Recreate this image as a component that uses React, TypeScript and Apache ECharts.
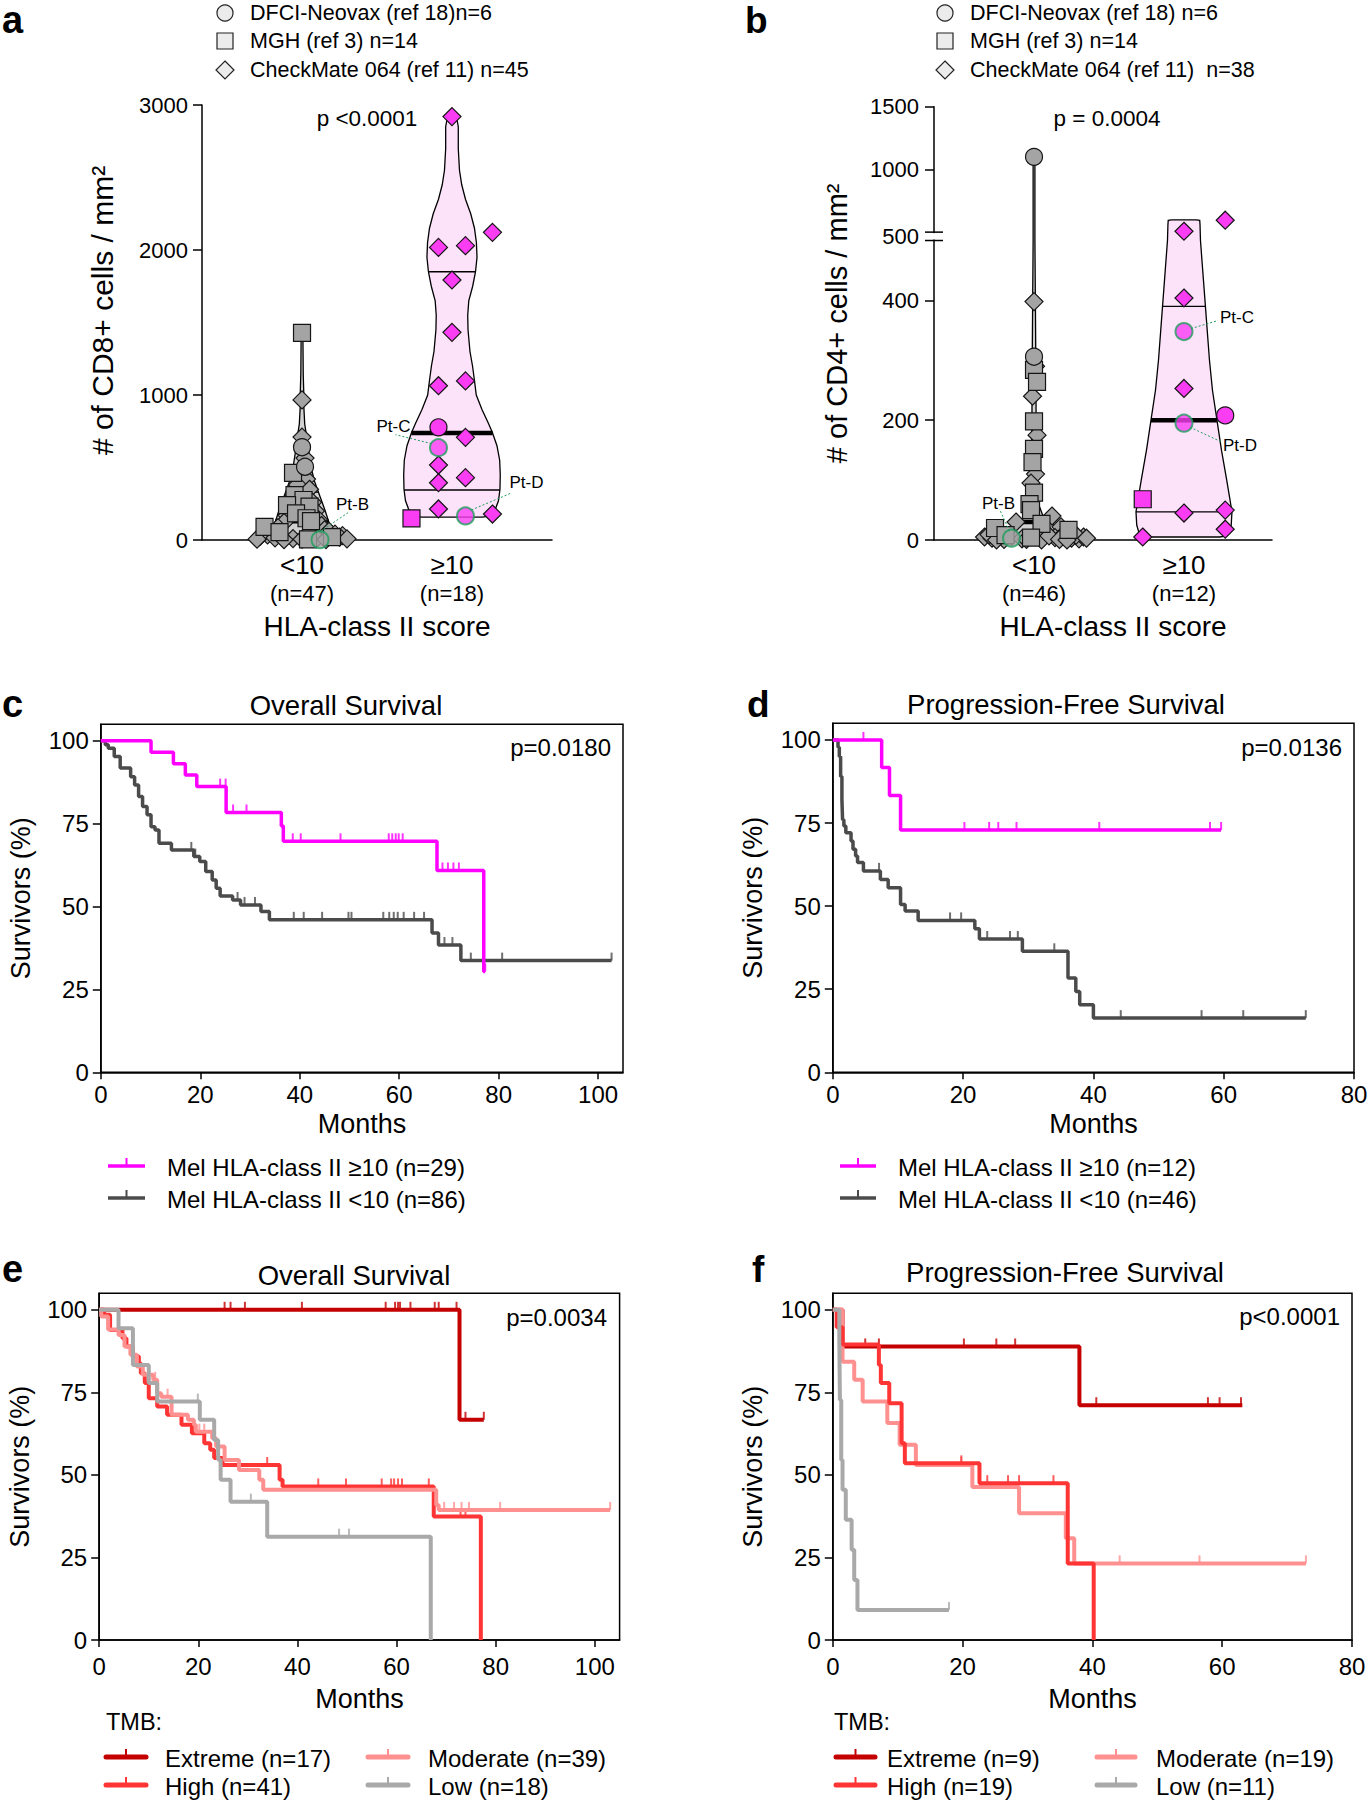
import React, { useEffect, useRef } from "react";
import * as echarts from "echarts";

const FONT = "'Liberation Sans', Arial, Helvetica, sans-serif";
const PT_GREY = "#a4a4a4";
const PT_MAGENTA = "#fa3cf2";
const PT_GREEN = "#1e9d5c";
const VIOLIN_PINK = "#fde3fa";
const VIOLIN_GREY = "#d2d2d2";
const KM_MAGENTA = "#ff00ff";
const KM_GREY = "#4b4b4b";
const TMB_EXTREME = "#c40000";
const TMB_HIGH = "#ff3434";
const TMB_MODERATE = "#ff9090";
const TMB_LOW = "#a9a9a9";

// ---------------- Panel a : CD8+ density ----------------
const aCategories = ["<10", "≥10"];
const aCounts = ["(n=47)", "(n=18)"];
const aLegend = ["DFCI-Neovax (ref 18)n=6", "MGH (ref 3) n=14", "CheckMate 064 (ref 11) n=45"];
// [group position + jitter, cells/mm2]
const aCirclesLow = [[0.0, 640], [0.02, 505]];
const aCirclesHigh = [[0.91, 777]];
const aSquaresLow = [[0.0, 1428], [-0.06, 463], [-0.05, 310], [0.01, 276], [-0.1, 241], [0.05, 230], [-0.04, 184], [0.03, 150], [0.06, 130], [-0.25, 90], [-0.15, 55], [0.2, 20], [0.04, 5]];
const aSquaresHigh = [[0.73, 149]];
const aDiamondsLow = [[0, 966], [0, 710], [0.02, 565], [0.03, 420], [-0.03, 380], [0.05, 350], [-0.06, 300], [0.07, 260], [-0.08, 220], [0.09, 200], [-0.1, 170], [0.11, 140], [-0.12, 120], [0.13, 100], [-0.16, 85], [0.15, 70], [0.18, 60], [-0.2, 50], [0.22, 40], [-0.23, 35], [0.27, 30], [-0.28, 25], [0.25, 20], [-0.18, 15], [0.1, 12], [-0.06, 10], [0.3, 8], [-0.3, 6], [0, 5], [0.16, 3], [-0.12, 2]];
const aDiamondsHigh = [[1, 2920], [0.91, 2018], [1.09, 2030], [1.27, 2122], [1, 1793], [1, 1432], [0.91, 1064], [1.09, 1097], [1.09, 708], [0.91, 517], [0.91, 395], [1.09, 430], [0.91, 214], [1.27, 179]];
const aPatientNames = ["Pt-B", "Pt-C", "Pt-D"];
const aPatientPoints = [[0.12, 2], [0.91, 637], [1.09, 166]];
const aPatientGroup = [0, 1, 1];
// violin outlines: [value, half width in group units]
const aViolinLow = [[1430, 0], [1400, 0.006], [1150, 0.008], [1000, 0.012], [960, 0.022], [920, 0.012], [800, 0.018], [720, 0.03], [600, 0.045], [500, 0.06], [400, 0.085], [300, 0.12], [200, 0.155], [120, 0.18], [60, 0.19], [25, 0.18], [5, 0.15], [1, 0.1]];
const aViolinLowLines = [[330, false], [130, true], [40, false]];
const aViolinHigh = [[2935, 0], [2920, 0.03], [2850, 0.042], [2700, 0.042], [2550, 0.05], [2450, 0.065], [2350, 0.09], [2250, 0.125], [2150, 0.15], [2050, 0.163], [1950, 0.167], [1850, 0.157], [1750, 0.138], [1650, 0.112], [1550, 0.105], [1450, 0.107], [1300, 0.12], [1200, 0.137], [1100, 0.15], [1000, 0.162], [900, 0.2], [800, 0.245], [740, 0.27], [650, 0.3], [550, 0.318], [450, 0.322], [350, 0.32], [270, 0.31], [215, 0.29], [180, 0.265], [163, 0.24], [158, 0.2]];
const aViolinHighLines = [[1850, false], [738, true], [345, false]];

// ---------------- Panel b : CD4+ density ----------------
const bCategories = ["<10", "≥10"];
const bCounts = ["(n=46)", "(n=12)"];
const bLegend = ["DFCI-Neovax (ref 18) n=6", "MGH (ref 3) n=14", "CheckMate 064 (ref 11)  n=38"];
const bYTickValues = [0, 200, 400, 500, 1000, 1500];
const bCirclesLow = [[0, 1100], [0, 306]];
const bCirclesHigh = [[1.275, 208]];
const bSquaresLow = [[0, 284], [0.02, 264], [0, 198], [0, 152], [-0.01, 130], [0, 79], [-0.03, 60], [-0.02, 50], [-0.26, 20], [-0.19, 8], [0.05, 27], [0.23, 17], [-0.02, 4]];
const bSquaresHigh = [[0.725, 68]];
const bDiamondsLow = [[0, 398], [0.01, 290], [-0.01, 240], [0.02, 175], [0.01, 110], [-0.02, 95], [0.12, 40], [-0.12, 30], [0.18, 22], [-0.33, 5], [-0.28, 3], [-0.22, 8], [-0.15, 6], [-0.08, 2], [0.08, 12], [0.14, 4], [0.2, 10], [0.25, 3], [0.3, 2], [0.33, 5], [-0.05, 1], [0.05, 0], [0.1, 7], [-0.2, 1], [0.17, 1], [-0.3, 9], [0.28, 8], [-0.25, 0], [0.22, 0], [0.35, 3]];
const bDiamondsHigh = [[1, 507], [1.275, 595], [1, 404], [1, 253], [1, 45], [1.275, 50], [1.275, 18], [0.725, 5]];
const bPatientNames = ["Pt-B", "Pt-C", "Pt-D"];
const bPatientPoints = [[-0.15, 3], [1, 348], [1, 195]];
const bPatientGroup = [0, 1, 1];
const bViolinLow = [[1100, 0], [1090, 0.006], [500, 0.006], [400, 0.009], [300, 0.012], [200, 0.014], [100, 0.02], [60, 0.03], [40, 0.06], [25, 0.13], [15, 0.2], [8, 0.27], [4, 0.31], [1, 0.3], [0, 0.25]];
const bViolinLowLines = [[160, false], [30, true], [6, false]];
const bViolinHigh = [[598, 0.08], [594, 0.105], [560, 0.107], [500, 0.11], [450, 0.125], [400, 0.14], [300, 0.17], [250, 0.19], [200, 0.22], [150, 0.25], [100, 0.285], [70, 0.305], [47, 0.32], [25, 0.315], [12, 0.3], [7, 0.28], [5, 0.24]];
const bViolinHighLines = [[390, false], [200, true], [47, false]];

// ---------------- Panels c-f : Kaplan-Meier curves [months, % surviving] ----------------
const kmYTicks = [0, 25, 50, 75, 100];
const osXTicks = [0, 20, 40, 60, 80, 100];
const pfsXTicks = [0, 20, 40, 60, 80];

const osHlaHigh = [[0, 100], [10.1, 96.6], [14.6, 93.1], [17.0, 89.7], [19.3, 86.2], [25.2, 78.4], [36.3, 74.3], [36.7, 69.7], [67.6, 60.9], [77.0, 30.4], [77.3, 30.4]];
const osHlaHighCensor = [24.0, 25.1, 26.6, 29.3, 38.6, 40.2, 48.2, 57.9, 58.6, 59.3, 59.9, 60.7, 68.7, 69.8, 70.9, 72.0, 77.3];
const osHlaLow = [[0, 100], [0.9, 98.8], [1.5, 97.8], [2.7, 95.3], [3.9, 91.8], [6.0, 89.2], [6.8, 86.7], [7.6, 83.2], [8.4, 80.2], [9.3, 77.7], [10.1, 74.1], [10.9, 73.1], [11.7, 69.1], [14.2, 67.1], [18.7, 65.1], [19.9, 63.6], [21.1, 60.6], [22.4, 58.0], [23.2, 55.5], [24.0, 53.2], [26.5, 52.0], [28.1, 50.5], [32.2, 48.5], [33.9, 46.0], [66.6, 42.0], [67.9, 38.4], [72.4, 33.7], [102.7, 33.7]];
const osHlaLowCensor = [18.2, 19.0, 27.5, 28.9, 31.0, 38.8, 40.8, 44.5, 49.8, 50.4, 56.8, 58.0, 58.9, 59.7, 60.9, 63.0, 65.0, 69.1, 70.7, 74.4, 80.7, 102.7];
const osHlaLegend = ["Mel HLA-class II ≥10 (n=29)", "Mel HLA-class II <10 (n=86)"];

const pfsHlaHigh = [[0, 100], [7.5, 91.7], [8.7, 83.3], [10.4, 72.9], [59.6, 72.9]];
const pfsHlaHighCensor = [4.7, 20.2, 24.0, 25.4, 28.2, 40.9, 57.9, 59.6];
const pfsHlaLow = [[0, 100], [0.8, 97.8], [1.0, 95.0], [1.2, 89.0], [1.4, 82.0], [1.5, 76.0], [1.7, 74.1], [2.0, 72.1], [2.8, 69.6], [3.1, 67.1], [3.5, 65.1], [3.8, 63.1], [4.7, 60.6], [7.3, 58.0], [8.5, 55.5], [10.4, 50.5], [11.1, 48.5], [13.1, 45.7], [21.8, 43.2], [22.5, 40.1], [29.1, 36.4], [36.1, 28.4], [37.3, 24.3], [37.9, 20.3], [40.0, 16.3], [72.6, 16.3]];
const pfsHlaLowCensor = [7.1, 18.0, 19.7, 23.7, 27.2, 28.4, 34.0, 44.2, 56.6, 63.0, 72.6];
const pfsHlaLegend = ["Mel HLA-class II ≥10 (n=12)", "Mel HLA-class II <10 (n=46)"];

const osTmbExtreme = [[0, 100], [72.7, 66.7], [77.6, 66.7]];
const osTmbExtremeCensor = [25.3, 26.5, 29.4, 40.9, 57.8, 59.7, 60.3, 60.7, 62.8, 67.7, 68.5, 72.1, 73.9, 77.6];
const osTmbHigh = [[0, 100], [1.0, 98.5], [2.2, 93.9], [4.7, 91.4], [5.5, 88.9], [6.8, 85.9], [8.0, 83.8], [8.4, 80.8], [9.2, 77.8], [10.0, 73.2], [11.7, 70.7], [13.7, 68.2], [16.6, 65.2], [18.7, 62.6], [21.2, 59.6], [22.4, 57.6], [23.2, 55.1], [24.9, 53.0], [36.4, 48.5], [37.0, 46.5], [67.5, 37.4], [77.0, 0]];
const osTmbHighCensor = [33.9, 44.2, 49.8, 57.0, 58.9, 59.5, 60.3, 61.1, 66.5, 72.9, 73.9];
const osTmbModerate = [[0, 100], [0.4, 98], [1.8, 94], [3.9, 92.4], [5.1, 88.9], [6.3, 86.4], [7.6, 82.8], [8.8, 80.3], [10.9, 78.8], [11.7, 74.7], [12.5, 73.7], [14.6, 68.2], [17.9, 66.7], [19.1, 65.2], [19.5, 63.1], [22.8, 61.1], [23.6, 58.6], [25.3, 54.5], [28.2, 51.5], [32.3, 48.5], [33.1, 45.5], [68.0, 40.9], [68.5, 39.4], [103.1, 39.4]];
const osTmbModerateCensor = [11.3, 13.8, 20.2, 21.2, 69.6, 71.6, 73.1, 74.6, 80.9, 103.1];
const osTmbLow = [[0, 100], [3.9, 94.4], [6.8, 83.3], [10.0, 77.8], [11.7, 72.2], [20.3, 66.7], [23.2, 60.6], [24.0, 54.6], [24.5, 48.5], [26.5, 41.9], [33.9, 31.3], [66.9, 0]];
const osTmbLowCensor = [19.9, 30.6, 48.4, 50.4];
const osTmbLegend = ["Extreme (n=17)", "High (n=41)", "Moderate (n=39)", "Low (n=18)"];

const pfsTmbExtreme = [[0, 100], [1.5, 88.9], [38.0, 71.1], [63.1, 71.1]];
const pfsTmbExtremeCensor = [5.0, 7.1, 20.2, 25.2, 28.1, 40.6, 57.8, 59.6, 62.9];
const pfsTmbHigh = [[0, 100], [0.6, 94.7], [1.5, 89.5], [7.1, 83.3], [7.4, 77.8], [8.7, 71.7], [10.6, 59.6], [11.1, 53.5], [22.6, 47.5], [36.2, 23.2], [40.2, 0]];
const pfsTmbHighCensor = [19.8, 23.8, 27.0, 28.7, 34.0];
const pfsTmbModerate = [[0, 100], [1.5, 84.3], [3.3, 78.8], [4.6, 72.2], [8.4, 65.7], [10.3, 59.1], [12.8, 53.0], [21.5, 46.3], [28.7, 38.4], [35.9, 30.8], [37.2, 23.2], [72.9, 23.2]];
const pfsTmbModerateCensor = [4.6, 19.8, 44.2, 56.5, 72.9];
const pfsTmbLow = [[0, 100], [1.0, 90.9], [1.1, 72.7], [1.3, 54.5], [1.5, 45.5], [2.0, 36.4], [2.9, 27.3], [3.3, 18.2], [3.8, 9.1], [17.9, 9.1]];
const pfsTmbLowCensor = [17.9];
const pfsTmbLegend = ["Extreme (n=9)", "High (n=19)", "Moderate (n=19)", "Low (n=11)"];

// ---------------- helpers ----------------
// broken axis of panel b: 0-500 linear, 500-1500 compressed
const B_BREAK = 500;
const B_GAP = 14;
const B_RATIO = 0.2094;
function bT(v: number) {
  return v <= B_BREAK ? v : B_BREAK + B_GAP + (v - B_BREAK) * B_RATIO;
}
const bLabelPos = bYTickValues.map((v) => (v === B_BREAK ? B_BREAK + B_GAP / 2 : bT(v)));
const ident = (v: number) => v;

function survAt(curve: number[][], t: number) {
  let s = curve[0][1];
  for (const [ti, si] of curve) {
    if (ti <= t + 1e-9) s = si;
    else break;
  }
  return s;
}

function widthAt(profile: any[], v: number) {
  for (let i = 0; i < profile.length - 1; i++) {
    const [v1, w1] = profile[i];
    const [v2, w2] = profile[i + 1];
    if (v <= v1 && v >= v2) {
      const f = v1 === v2 ? 0 : (v1 - v) / (v1 - v2);
      return w1 + (w2 - w1) * f;
    }
  }
  return 0;
}

function violin(ax: number, center: number, profile: any[], lines: any[], fill: string, tf: (v: number) => number) {
  return {
    type: "custom",
    xAxisIndex: ax,
    yAxisIndex: ax,
    clip: false,
    silent: true,
    z: 1,
    data: [[center, tf(profile[0][0])]],
    renderItem: (params: any, api: any) => {
      const right = profile.map(([v, w]: any) => api.coord([center + w, tf(v)]));
      const left = profile.slice().reverse().map(([v, w]: any) => api.coord([center - w, tf(v)]));
      const children: any[] = [
        { type: "polygon", shape: { points: right.concat(left) }, style: { fill, stroke: "#000", lineWidth: 1.3 } },
      ];
      lines.forEach(([v, bold]: any) => {
        const w = widthAt(profile, v);
        const p1 = api.coord([center - w, tf(v)]);
        const p2 = api.coord([center + w, tf(v)]);
        children.push({
          type: "line",
          shape: { x1: p1[0], y1: p1[1], x2: p2[0], y2: p2[1] },
          style: { stroke: "#000", lineWidth: bold ? 4.5 : 1.3 },
        });
      });
      return { type: "group", children };
    },
  };
}

function points(ax: number, data: any[], symbol: string, color: string, tf: (v: number) => number, size = 17) {
  return {
    type: "scatter",
    xAxisIndex: ax,
    yAxisIndex: ax,
    symbol,
    symbolSize: size,
    clip: false,
    silent: true,
    z: 2,
    data: data.map(([x, v]: any) => [x, tf(v)]),
    itemStyle: { color, borderColor: "#151515", borderWidth: 1.2, opacity: 1 },
  };
}

function patients(ax: number, pts: any[], groups: number[], names: string[], offsets: any[], tf: (v: number) => number) {
  return [
    {
      type: "scatter",
      xAxisIndex: ax,
      yAxisIndex: ax,
      symbol: "circle",
      symbolSize: 17,
      clip: false,
      silent: true,
      z: 3,
      data: pts.map(([x, v]: any, i: number) => ({
        value: [x, tf(v)],
        itemStyle: { color: groups[i] === 0 ? PT_GREY : PT_MAGENTA, borderColor: PT_GREEN, borderWidth: 2 },
      })),
    },
    {
      type: "custom",
      xAxisIndex: ax,
      yAxisIndex: ax,
      clip: false,
      silent: true,
      z: 4,
      data: pts.map(([x, v]: any) => [x, tf(v)]),
      renderItem: (params: any, api: any) => {
        const i = params.dataIndex;
        const p = api.coord([api.value(0), api.value(1)]);
        const o = offsets[i];
        return {
          type: "group",
          children: [
            {
              type: "line",
              shape: { x1: p[0] + o[3], y1: p[1] + o[4], x2: p[0] + o[5], y2: p[1] + o[6] },
              style: { stroke: PT_GREEN, lineWidth: 1, lineDash: [2, 2] },
            },
            {
              type: "text",
              x: p[0] + o[0],
              y: p[1] + o[1],
              style: {
                text: names[i],
                fontSize: 17,
                fontFamily: FONT,
                fill: "#000",
                align: o[2],
                textAlign: o[2],
                verticalAlign: "middle",
                textVerticalAlign: "middle",
              },
            },
          ],
        };
      },
    },
  ];
}

function kmCurve(ax: number, curve: number[][], censor: number[], color: string, width: number, z: number) {
  return [
    {
      type: "line",
      xAxisIndex: ax,
      yAxisIndex: ax,
      step: "end",
      data: curve,
      symbol: "none",
      showSymbol: false,
      silent: true,
      z,
      lineStyle: { color, width },
      itemStyle: { color },
    },
    {
      type: "scatter",
      xAxisIndex: ax,
      yAxisIndex: ax,
      symbol: "rect",
      symbolSize: [2, 8],
      symbolOffset: [0, -4],
      silent: true,
      clip: false,
      z,
      data: censor.map((t) => [t, survAt(curve, t)]),
      itemStyle: { color },
    },
  ];
}

function txt(text: string, x: number, y: number, size: number, align = "left", weight = "normal", rotation = 0) {
  return {
    type: "text",
    x,
    y,
    rotation,
    silent: true,
    style: {
      text,
      fontSize: size,
      fontFamily: FONT,
      fontWeight: weight,
      fill: "#000",
      align,
      textAlign: align,
      verticalAlign: "middle",
      textVerticalAlign: "middle",
    },
  };
}

function legendLine(x1: number, x2: number, y: number, color: string, width: number, round: boolean) {
  const cx = (x1 + x2) / 2;
  return [
    { type: "line", silent: true, shape: { x1, y1: y, x2, y2: y }, style: { stroke: color, lineWidth: width, lineCap: round ? "round" : "butt" } },
    { type: "line", silent: true, shape: { x1: cx, y1: y, x2: cx, y2: y - 8 }, style: { stroke: color, lineWidth: 2 } },
  ];
}

function scatterX(grid: number, xmin: number, xmax: number, cats: string[], counts: string[], namePad: number) {
  return {
    type: "value",
    gridIndex: grid,
    min: xmin,
    max: xmax,
    axisLine: { show: true, onZero: false, lineStyle: { color: "#000", width: 1.5 } },
    axisTick: { show: false },
    splitLine: { show: false },
    axisLabel: {
      customValues: [0, 1],
      margin: 11,
      formatter: (val: number) => {
        const i = Math.round(val);
        return `{g|${cats[i]}}\n{n|${counts[i]}}`;
      },
      rich: {
        g: { fontSize: 26, lineHeight: 28, fontFamily: FONT, color: "#000" },
        n: { fontSize: 22, lineHeight: 28, fontFamily: FONT, color: "#000" },
      },
    },
    name: "HLA-class II score",
    nameLocation: "middle",
    nameGap: 72,
    nameTextStyle: { fontSize: 28, fontFamily: FONT, color: "#000", padding: [0, 0, 0, namePad] },
  };
}

function kmX(grid: number, max: number, ticks: number[], margin: number, nameGap: number) {
  return {
    type: "value",
    gridIndex: grid,
    min: 0,
    max,
    axisLine: { show: true, onZero: false, lineStyle: { color: "#000", width: 1.5 } },
    axisTick: { show: true, inside: false, length: 7, customValues: ticks, lineStyle: { color: "#000", width: 1.5 } },
    axisLabel: { customValues: ticks, fontSize: 24, fontFamily: FONT, color: "#000", margin },
    splitLine: { show: false },
    name: "Months",
    nameLocation: "middle",
    nameGap,
    nameTextStyle: { fontSize: 27, fontFamily: FONT, color: "#000" },
  };
}

function kmY(grid: number) {
  return {
    type: "value",
    gridIndex: grid,
    min: 0,
    max: 105,
    axisLine: { show: true, onZero: false, lineStyle: { color: "#000", width: 1.5 } },
    axisTick: { show: true, inside: false, length: 8, customValues: kmYTicks, lineStyle: { color: "#000", width: 1.5 } },
    axisLabel: { customValues: kmYTicks, fontSize: 24, fontFamily: FONT, color: "#000", margin: 12 },
    splitLine: { show: false },
    name: "Survivors (%)",
    nameLocation: "middle",
    nameGap: 66,
    nameTextStyle: { fontSize: 27, fontFamily: FONT, color: "#000" },
  };
}

function buildOption() {
  const kmGrid = { show: true, borderColor: "#000", borderWidth: 1.5, backgroundColor: "transparent", outerBoundsMode: "none" };
  const grid = [
    { left: 202, top: 105, width: 350, height: 435, outerBoundsMode: "none" },
    { left: 934, top: 106.7, width: 338, height: 433.3, outerBoundsMode: "none" },
    { ...kmGrid, left: 100.8, top: 724.3, width: 522.2, height: 348 },
    { ...kmGrid, left: 832.8, top: 723.3, width: 521.2, height: 349 },
    { ...kmGrid, left: 99.2, top: 1293.3, width: 520.4, height: 346.7 },
    { ...kmGrid, left: 832.8, top: 1293.3, width: 519.2, height: 346.7 },
  ];

  const xAxis = [
    scatterX(0, -0.667, 1.667, aCategories, aCounts, 0),
    scatterX(1, -0.667, 1.587, bCategories, bCounts, 20),
    kmX(2, 105, osXTicks, 10, 38),
    kmX(3, 80, pfsXTicks, 10, 38),
    kmX(4, 105, osXTicks, 14, 45),
    kmX(5, 80, pfsXTicks, 14, 45),
  ];

  const yAxis = [
    {
      type: "value",
      gridIndex: 0,
      min: 0,
      max: 3000,
      interval: 1000,
      axisLine: { show: true, onZero: false, lineStyle: { color: "#000", width: 1.5 } },
      axisTick: { show: true, inside: false, length: 9, lineStyle: { color: "#000", width: 1.5 } },
      axisLabel: { fontSize: 22, fontFamily: FONT, color: "#000", margin: 14, formatter: (v: number) => String(v) },
      splitLine: { show: false },
      name: "# of CD8+ cells / mm²",
      nameLocation: "middle",
      nameGap: 85,
      nameTextStyle: { fontSize: 30, fontFamily: FONT, color: "#000", padding: [0, 0, 0, 24] },
    },
    {
      type: "value",
      gridIndex: 1,
      min: 0,
      max: bT(1500),
      axisLine: { show: true, onZero: false, lineStyle: { color: "#000", width: 1.5 } },
      axisTick: {
        show: true,
        inside: false,
        length: 9,
        customValues: bYTickValues.filter((v) => v !== B_BREAK).map(bT),
        lineStyle: { color: "#000", width: 1.5 },
      },
      axisLabel: {
        customValues: bLabelPos,
        fontSize: 22,
        fontFamily: FONT,
        color: "#000",
        margin: 15,
        formatter: (val: number) => {
          let best = 0;
          bLabelPos.forEach((p, i) => {
            if (Math.abs(p - val) < Math.abs(bLabelPos[best] - val)) best = i;
          });
          return String(bYTickValues[best]);
        },
      },
      splitLine: { show: false },
      name: "# of CD4+ cells / mm²",
      nameLocation: "middle",
      nameGap: 83,
      nameTextStyle: { fontSize: 29, fontFamily: FONT, color: "#000" },
    },
    kmY(2),
    kmY(3),
    kmY(4),
    kmY(5),
  ];

  const aOffsets = [
    [16, -35, "left", 0, -8, 28, -27],
    [-28, -21, "right", -7, -4, -43, -13],
    [44, -33, "left", 6, -6, 46, -23],
  ];
  const bOffsets = [
    [-13, -35, "center", -2, -7, -12, -29],
    [36, -14, "left", 7, -3, 34, -11],
    [39, 22, "left", 6, 4, 38, 19],
  ];

  const series: any[] = [
    violin(0, 0, aViolinLow, aViolinLowLines, VIOLIN_GREY, ident),
    violin(0, 1, aViolinHigh, aViolinHighLines, VIOLIN_PINK, ident),
    points(0, aDiamondsLow, "diamond", PT_GREY, ident, 18),
    points(0, aSquaresLow, "rect", PT_GREY, ident),
    points(0, aCirclesLow, "circle", PT_GREY, ident),
    points(0, aDiamondsHigh, "diamond", PT_MAGENTA, ident, 18),
    points(0, aSquaresHigh, "rect", PT_MAGENTA, ident),
    points(0, aCirclesHigh, "circle", PT_MAGENTA, ident),
    ...patients(0, aPatientPoints, aPatientGroup, aPatientNames, aOffsets, ident),

    violin(1, 0, bViolinLow, bViolinLowLines, VIOLIN_GREY, bT),
    violin(1, 1, bViolinHigh, bViolinHighLines, VIOLIN_PINK, bT),
    points(1, bDiamondsLow, "diamond", PT_GREY, bT, 18),
    points(1, bSquaresLow, "rect", PT_GREY, bT),
    points(1, bCirclesLow, "circle", PT_GREY, bT),
    points(1, bDiamondsHigh, "diamond", PT_MAGENTA, bT, 18),
    points(1, bSquaresHigh, "rect", PT_MAGENTA, bT),
    points(1, bCirclesHigh, "circle", PT_MAGENTA, bT),
    ...patients(1, bPatientPoints, bPatientGroup, bPatientNames, bOffsets, bT),
    {
      // axis break marks of panel b
      type: "custom",
      xAxisIndex: 1,
      yAxisIndex: 1,
      clip: false,
      silent: true,
      z: 10,
      data: [[-0.667, B_BREAK]],
      renderItem: (params: any, api: any) => {
        const x = api.coord([-0.667, 0])[0];
        const yLow = api.coord([-0.667, B_BREAK])[1];
        const yUp = api.coord([-0.667, B_BREAK + B_GAP])[1];
        return {
          type: "group",
          children: [
            { type: "rect", shape: { x: x - 4, y: yUp + 1, width: 8, height: yLow - yUp - 2 }, style: { fill: "#fff" } },
            { type: "line", shape: { x1: x - 9, y1: yLow, x2: x + 9, y2: yLow }, style: { stroke: "#000", lineWidth: 1.5 } },
            { type: "line", shape: { x1: x - 9, y1: yUp, x2: x + 9, y2: yUp }, style: { stroke: "#000", lineWidth: 1.5 } },
          ],
        };
      },
    },

    ...kmCurve(2, osHlaLow, osHlaLowCensor, KM_GREY, 3.5, 2),
    ...kmCurve(2, osHlaHigh, osHlaHighCensor, KM_MAGENTA, 3.5, 3),
    ...kmCurve(3, pfsHlaLow, pfsHlaLowCensor, KM_GREY, 3.5, 2),
    ...kmCurve(3, pfsHlaHigh, pfsHlaHighCensor, KM_MAGENTA, 3.5, 3),

    ...kmCurve(4, osTmbExtreme, osTmbExtremeCensor, TMB_EXTREME, 4, 2),
    ...kmCurve(4, osTmbHigh, osTmbHighCensor, TMB_HIGH, 4, 3),
    ...kmCurve(4, osTmbModerate, osTmbModerateCensor, TMB_MODERATE, 4, 4),
    ...kmCurve(4, osTmbLow, osTmbLowCensor, TMB_LOW, 4, 5),
    ...kmCurve(5, pfsTmbExtreme, pfsTmbExtremeCensor, TMB_EXTREME, 4, 2),
    ...kmCurve(5, pfsTmbModerate, pfsTmbModerateCensor, TMB_MODERATE, 4, 3),
    ...kmCurve(5, pfsTmbHigh, pfsTmbHighCensor, TMB_HIGH, 4, 4),
    ...kmCurve(5, pfsTmbLow, pfsTmbLowCensor, TMB_LOW, 4, 5),
  ];

  const g: any[] = [];
  // panel letters
  g.push(txt("a", 2, 20, 38, "left", "bold"));
  g.push(txt("b", 745, 20, 37, "left", "bold"));
  g.push(txt("c", 2, 704, 38, "left", "bold"));
  g.push(txt("d", 747, 704, 37, "left", "bold"));
  g.push(txt("e", 2, 1269, 38, "left", "bold"));
  g.push(txt("f", 752, 1269, 37, "left", "bold"));

  // legends of panels a, b (cohort symbols)
  const cohortIcons = (cx: number) => [
    { type: "circle", silent: true, shape: { cx, cy: 13, r: 8 }, style: { fill: "#ececec", stroke: "#222", lineWidth: 1.2 } },
    { type: "rect", silent: true, shape: { x: cx - 8, y: 33, width: 16, height: 16 }, style: { fill: "#ececec", stroke: "#222", lineWidth: 1.2 } },
    {
      type: "polygon",
      silent: true,
      shape: { points: [[cx, 61], [cx + 9, 70], [cx, 79], [cx - 9, 70]] },
      style: { fill: "#ececec", stroke: "#222", lineWidth: 1.2 },
    },
  ];
  g.push(...cohortIcons(225), ...cohortIcons(945));
  [13, 41, 70].forEach((y, i) => {
    g.push(txt(aLegend[i], 250, y, 21.5));
    g.push(txt(bLegend[i], 970, y, 21.5));
  });
  g.push(txt("p <0.0001", 367, 118, 22.5, "center"));
  g.push(txt("p = 0.0004", 1107, 118, 22.5, "center"));

  // KM titles and p values
  g.push(txt("Overall Survival", 346, 705, 27.5, "center"));
  g.push(txt("Progression-Free Survival", 1066, 704, 27.5, "center"));
  g.push(txt("Overall Survival", 354, 1275, 27.5, "center"));
  g.push(txt("Progression-Free Survival", 1065, 1272, 27.5, "center"));
  g.push(txt("p=0.0180", 611, 747, 24, "right"));
  g.push(txt("p=0.0136", 1342, 747, 24, "right"));
  g.push(txt("p=0.0034", 607, 1317, 24, "right"));
  g.push(txt("p<0.0001", 1340, 1316, 24, "right"));

  // KM legends c, d
  g.push(...legendLine(108, 145, 1166, KM_MAGENTA, 3.5, false), txt(osHlaLegend[0], 167, 1167, 24));
  g.push(...legendLine(108, 145, 1198, KM_GREY, 3.5, false), txt(osHlaLegend[1], 167, 1199, 24));
  g.push(...legendLine(840, 876, 1166, KM_MAGENTA, 3.5, false), txt(pfsHlaLegend[0], 898, 1167, 24));
  g.push(...legendLine(840, 876, 1198, KM_GREY, 3.5, false), txt(pfsHlaLegend[1], 898, 1199, 24));

  // KM legends e, f
  const tmbColors = [TMB_EXTREME, TMB_HIGH, TMB_MODERATE, TMB_LOW];
  const tmbLegend = (labels: string[], tx: number, c1: number[], c2: number[]) => {
    g.push(txt("TMB:", tx, 1722, 23.5));
    const rows = [1757, 1785];
    [0, 1, 2, 3].forEach((i) => {
      const col = i < 2 ? c1 : c2;
      const y = rows[i % 2];
      g.push(...legendLine(col[0], col[1], y, tmbColors[i], 5, true), txt(labels[i], col[2], y + 1, 24));
    });
  };
  tmbLegend(osTmbLegend, 106, [106, 146, 165], [368, 408, 428]);
  tmbLegend(pfsTmbLegend, 834, [836, 875, 887], [1097, 1135, 1156]);

  return {
    animation: false,
    backgroundColor: "#ffffff",
    textStyle: { fontFamily: FONT },
    grid,
    xAxis,
    yAxis,
    series,
    graphic: { elements: g },
  };
}

export default function App() {
  const ref = useRef<HTMLDivElement>(null);
  useEffect(() => {
    document.body.style.margin = "0";
    const chart = echarts.init(ref.current as HTMLDivElement, null, { renderer: "svg" });
    chart.setOption(buildOption() as any);
    return () => chart.dispose();
  }, []);
  return <div ref={ref} style={{ width: 1368, height: 1800, background: "#fff" }} />;
}
